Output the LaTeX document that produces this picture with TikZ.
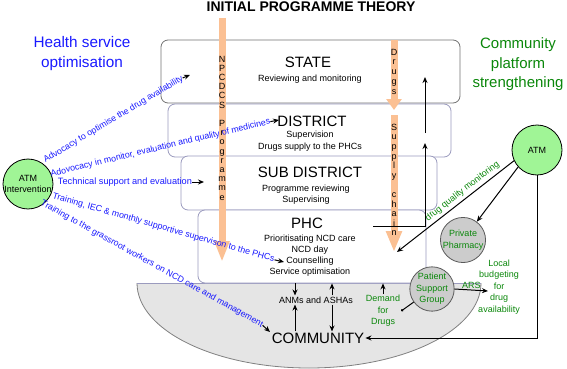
\documentclass[tikz,border=0pt]{standalone}
\usepackage{fontspec}
\setmainfont{Liberation Sans}
\usepackage{tikz}
\usetikzlibrary{arrows.meta}

\definecolor{drugorange}{RGB}{251,192,147}
\definecolor{hsblue}{RGB}{25,25,255}
\definecolor{cpgreen}{RGB}{10,135,10}
\definecolor{atmgreen}{RGB}{160,245,150}
\definecolor{tierline}{RGB}{155,155,190}
\definecolor{commfill}{RGB}{229,229,229}

\begin{document}
\begin{tikzpicture}[x=1pt, y=-1pt,
    tier/.style={draw=tierline, fill=white, line width=0.8pt, rounded corners=7pt},
    tiername/.style={font=\fontsize{15}{18}\selectfont, inner sep=1pt},
    tiertext/.style={font=\fontsize{9}{11.5}\selectfont, align=center, inner sep=1pt},
    bluetxt/.style={text=hsblue, font=\fontsize{8.8}{10}\selectfont, inner sep=0pt},
    greentxt/.style={text=cpgreen, font=\fontsize{9}{11.5}\selectfont, align=center, inner sep=1pt},
    arr/.style={-{Stealth[length=6pt,width=5pt]}, line width=1pt},
    bar/.style={draw=drugorange, line width=7pt},
    barstack/.style={anchor=north, inner sep=0pt, align=center},
    grayball/.style={circle, draw=gray!70!black, fill=gray!40, line width=0.8pt, inner sep=0pt,
        text=cpgreen, font=\fontsize{9}{11.5}\selectfont, align=center}]
    \useasboundingbox (0,0) rectangle (567,369);

    % Community ground
    \begin{scope}
        \clip (0,283) rectangle (567,369);
        \filldraw[fill=commfill, draw=gray, line width=0.8pt] (309,283) ellipse [x radius=172pt, y radius=85pt];
    \end{scope}
    \draw[draw=tierline, line width=0.8pt] (137,283) -- (481,283);

    % Titles
    \node[font=\fontsize{14}{16}\selectfont\bfseries] (title) at (311,7) {INITIAL PROGRAMME THEORY};
    \node[text=hsblue, font=\fontsize{15.3}{20}\selectfont, align=center] (hso) at (82,54) {Health service\\optimisation};
    \node[text=cpgreen, font=\fontsize{15}{19.5}\selectfont, align=center] (cps) at (518,64.5) {Community\\platform\\strengthening};

    % Tiers
    \node[tier, draw=gray!90!black, minimum width=299pt, minimum height=63pt] (state) at (310.5,71.5) {};
    \node[tier, minimum width=283pt, minimum height=53pt] (district) at (309.5,130.5) {};
    \node[tier, minimum width=256pt, minimum height=54pt] (subdistrict) at (309,183) {};
    \node[tier, minimum width=228pt, minimum height=73pt] (phc) at (312,246.5) {};

    \node[tiername] (statelbl) at (308,62) {STATE};
    \node[tiertext] (statetxt) at (310,79) {Reviewing and monitoring};
    \node[tiername] (districtlbl) at (312,121) {DISTRICT};
    \node[tiertext] (districttxt) at (310,141) {Supervision\\Drugs supply to the PHCs};
    \node[tiername] (sublbl) at (310,172) {SUB DISTRICT};
    \node[tiertext] (subtxt) at (306,194.5) {Programme reviewing\\Supervising};
    \node[tiername] (phclbl) at (307,223) {PHC};
    \node[tiertext, font=\fontsize{9}{11}\selectfont] (phctxt) at (310,256) {Prioritisating NCD care\\NCD day\\Counselling\\Service optimisation};

    % Orange bars
    \draw[bar, -{Triangle[length=21pt,width=14pt]}] (222,18) -- (222,262);
    \node[barstack, font=\fontsize{9}{9.2}\selectfont] (npcdcs) at (222,55.8)
        {N\\P\\C\\D\\C\\S\\\mbox{}\\P\\r\\o\\g\\r\\a\\m\\m\\e};
    \draw[bar, -{Triangle[length=11pt,width=15pt]}] (394,40) -- (394,110);
    \node[barstack, font=\fontsize{9}{9.8}\selectfont] (drugs) at (394,48.8) {D\\r\\u\\g\\s};
    \draw[bar, -{Triangle[length=21pt,width=15pt]}] (394,115) -- (394,252);
    \node[barstack, font=\fontsize{9}{9.6}\selectfont] (supply) at (394,123.8)
        {S\\u\\p\\p\\l\\y\\\mbox{}\\c\\h\\a\\i\\n};

    % Community level
    \node[tiertext] (anms) at (316,300) {ANMs and ASHAs};
    \node[tiername] (community) at (318,338) {COMMUNITY};
    \draw[arr] ([xshift=-21pt]anms.north |- phc.south) -- ([xshift=-21pt]anms.north);
    \draw[arr] ([xshift=-21pt]anms.south |- community.north) -- ([xshift=-21pt]anms.south);
    \draw[arr] ([xshift=16pt]anms.north) -- ([xshift=16pt]anms.north |- phc.south);
    \draw[arr] ([xshift=16pt]anms.south) -- ([xshift=16pt]anms.south |- community.north);

    \node[greentxt] (demand) at (383,311) {Demand\\for\\Drugs};
    \draw[arr] (demand.north) -- (demand.north |- phc.south);

    % Feedback to the upper tiers
    \coordinate (phcout) at (373,226);
    \coordinate (subup) at (425,143);
    \coordinate (distup) at (425,133);
    \coordinate (stateup) at (425,77);
    \draw[arr] (phcout) -| (subup);
    \draw[arr] (distup) -- (stateup);

    % Left: ATM intervention
    \node[circle, draw, fill=atmgreen, line width=0.8pt, inner sep=0pt, align=center,
        font=\fontsize{9}{11}\selectfont] (atmL) at (28,184) {ATM\\Intervention};

    \node[bluetxt, rotate=31] (adv1) at (113.5,119.5) {Advocacy to optimise the drug availability};
    \node[bluetxt, rotate=13.5] (adv2) at (160.5,148) {Adovocacy in monitor, evaluation and quality of medicines};
    \node[bluetxt, font=\fontsize{9.2}{10}\selectfont] (tech) at (125,182) {Technical support and evaluation};
    \node[bluetxt, rotate=-16] (train1) at (163.5,228) {Training, IEC \& monthly supportive supervison to the PHCs};
    \node[bluetxt, rotate=-29] (train2) at (152,264) {Training to the grassroot workers on NCD care and management};

    \coordinate (adv1tip) at (190,75);
    \coordinate (adv2tip) at (279,120);
    \coordinate (techtip) at (204,182);
    \coordinate (train1tip) at (284,262);
    \coordinate (train2tip) at (270,332);
    \draw[arr] (adv1.east) -- (adv1tip);
    \draw[arr] (adv2.east) -- (adv2tip);
    \draw[arr] (tech.east) -- (techtip);
    \draw[arr] (train1.east) -- (train1tip);
    \draw[arr] (train2.east) -- (train2tip);

    % Right: ATM
    \node[circle, draw, fill=atmgreen, line width=0.8pt, minimum size=50pt, inner sep=0pt,
        font=\fontsize{9}{11}\selectfont] (atmR) at (537,150) {ATM};
    \node[grayball] (pharm) at (463,240) {Private\\Pharmacy};
    \node[grayball] (psg) at (432,289) {Patient\\Support\\Group};
    \node[greentxt] (budget) at (499,287) {Local\\budgeting\\for\\drug\\availability};

    \coordinate (dqmtip) at (397,252);
    \coordinate (arstip) at (488,291);
    \draw[arr] (atmR.205) -- node[pos=.4, sloped, above=2pt, greentxt] (dqm) {drug quality monitoring} (dqmtip);
    \draw[arr] (atmR.222) -- (pharm);
    \draw[arr] (atmR.south) |- (community.east);
    \draw[arr] (psg.east) -- node[above, greentxt] (ars) {ARS} (arstip);
    \draw[-{Circle[length=2.5pt]}, line width=1pt] (psg) -- (demand.east);
\end{tikzpicture}
\end{document}
